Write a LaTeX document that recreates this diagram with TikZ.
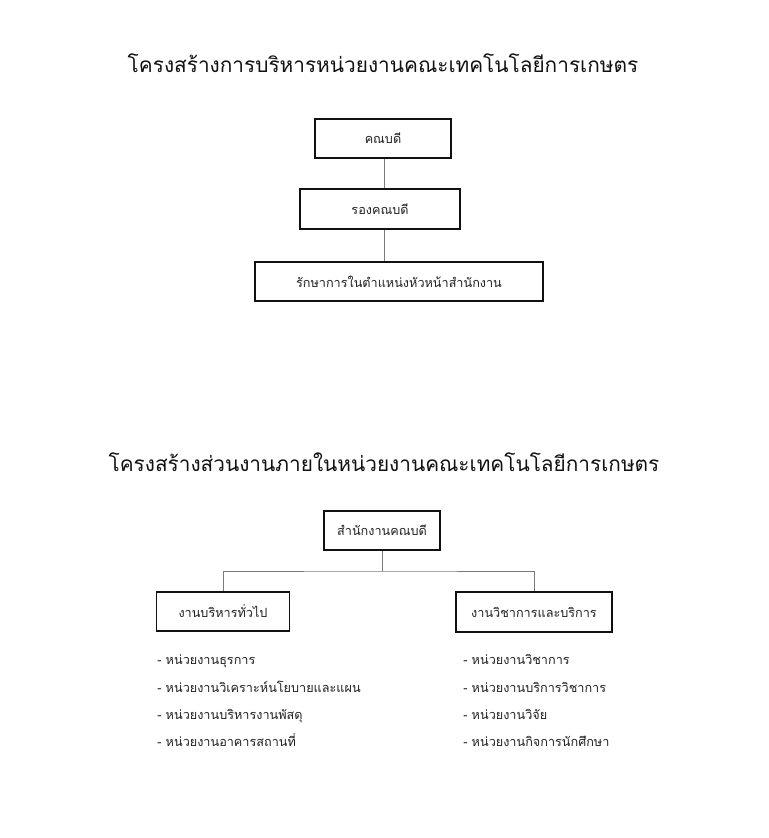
\documentclass[tikz,border=0pt]{standalone}
\usepackage{fontspec}
\newfontfamily\thaifont[Script=Thai]{Loma}
\usetikzlibrary{positioning, calc}
\definecolor{boxline}{HTML}{111111}
\definecolor{connline}{HTML}{7A7A7A}
\definecolor{headtext}{HTML}{111111}
\definecolor{bodytext}{HTML}{222222}

\begin{document}
\begin{tikzpicture}[
    x=0.75pt, y=-0.75pt,
    font=\thaifont,
    % ── shared styles ──
    chart title/.style={font=\thaifont\fontsize{15.6}{18}\selectfont, text=headtext},
    org box/.style={draw=boxline, line width=1.3pt, fill=white,
        font=\thaifont\fontsize{9.5}{11}\selectfont, text=bodytext,
        minimum height=29.5pt, minimum width=#1, inner sep=0pt},
    unit item/.style={font=\thaifont\fontsize{9.5}{11}\selectfont, text=bodytext,
        anchor=base west, inner sep=0pt},
    link/.style={draw=connline, line width=0.7pt},
]

\useasboundingbox[fill=white] (0,0) rectangle (768,838);

% ══════════════════════════════════════════════════════════════════════
%  ADMINISTRATION STRUCTURE
% ══════════════════════════════════════════════════════════════════════
\node[chart title] (titleA) at (383,63) {โครงสร้างการบริหารหน่วยงานคณะเทคโนโลยีการเกษตร};

\node[org box=102pt] (dean)   at (383,138.5) {คณบดี};
\node[org box=120pt] (vdean)  at (380,209)   {รองคณบดี};
\node[org box=216pt] (acting) at (399,281.5) {รักษาการในตำแหน่งหัวหน้าสำนักงาน};

\draw[link] (dean.south -| 384,0) -- (vdean.north -| 384,0);
\draw[link] (vdean.south -| 384,0) -- (acting.north -| 384,0);

% ══════════════════════════════════════════════════════════════════════
%  INTERNAL UNITS
% ══════════════════════════════════════════════════════════════════════
\node[chart title] (titleB) at (384,462) {โครงสร้างส่วนงานภายในหน่วยงานคณะเทคโนโลยีการเกษตร};

\node[org box=87pt]    (office)  at (382,530.5) {สำนักงานคณบดี};
\node[org box=99.75pt] (general) at (223,611.5) {งานบริหารทั่วไป};
\node[org box=117pt]   (academic) at (534,612)  {งานวิชาการและบริการ};

\coordinate (bus) at (382,571);
\draw[link] (office.south) -- (bus);
\draw[link] (general.north) |- (bus) -| (academic.north);

% ── unit lists ──
\node[unit item] (g1) at (157,664) {- หน่วยงานธุรการ};
\node[unit item] (g2) at (157,692) {- หน่วยงานวิเคราะห์นโยบายและแผน};
\node[unit item] (g3) at (157,719) {- หน่วยงานบริหารงานพัสดุ};
\node[unit item] (g4) at (157,746) {- หน่วยงานอาคารสถานที่};

\node[unit item] (a1) at (463,664) {- หน่วยงานวิชาการ};
\node[unit item] (a2) at (463,692) {- หน่วยงานบริการวิชาการ};
\node[unit item] (a3) at (463,719) {- หน่วยงานวิจัย};
\node[unit item] (a4) at (463,746) {- หน่วยงานกิจการนักศึกษา};

\end{tikzpicture}
\end{document}
